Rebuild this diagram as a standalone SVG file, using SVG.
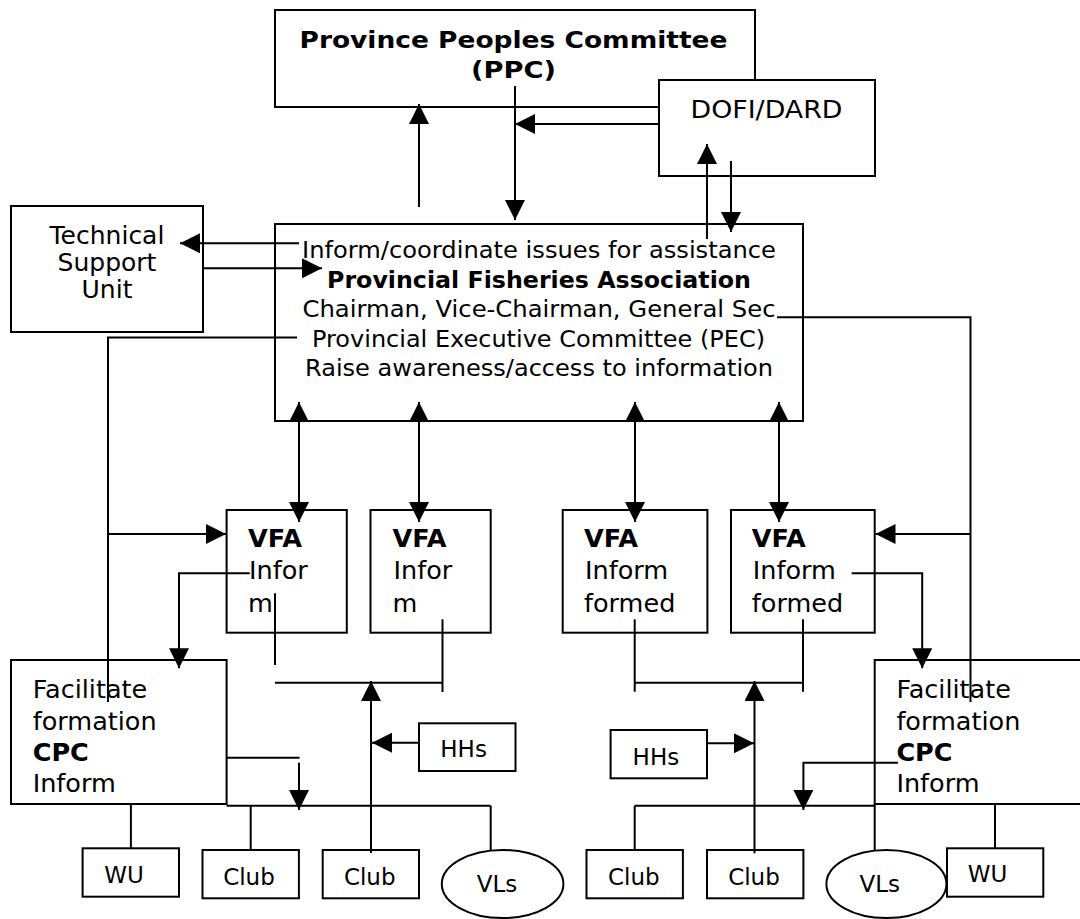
<svg xmlns="http://www.w3.org/2000/svg" width="1080" height="919" viewBox="0 0 1080 919">
<defs>
<style>
.box{fill:#fff;stroke:#000;stroke-width:2}
.ln{fill:none;stroke:#000;stroke-width:2}
.a{marker-end:url(#ah)}
.d{marker-start:url(#as);marker-end:url(#ah)}
text{font-family:"DejaVu Sans",Verdana,sans-serif;fill:#000}
.c{text-anchor:middle}
.b{font-weight:bold}
.f22{font-size:23px}
.f23{font-size:23px}
.f25{font-size:25px}
.f26{font-size:25.5px}
</style>
<marker id="ah" markerUnits="userSpaceOnUse" markerWidth="20" markerHeight="20" viewBox="0 0 20 20" refX="20" refY="10" orient="auto"><path d="M0,0 L20,10 L0,20 z" fill="#000"/></marker>
<marker id="as" markerUnits="userSpaceOnUse" markerWidth="20" markerHeight="20" viewBox="0 0 20 20" refX="0" refY="10" orient="auto"><path d="M20,0 L0,10 L20,20 z" fill="#000"/></marker>
</defs>
<rect width="1080" height="919" fill="#fff"/>

<g id="ppc">
<rect class="box" x="275" y="10" width="480" height="97"/>
<text class="c b f23" x="513.5" y="48" textLength="428" lengthAdjust="spacingAndGlyphs">Province Peoples Committee</text>
<text class="c b f23" x="513.5" y="78" textLength="85" lengthAdjust="spacingAndGlyphs">(PPC)</text>
</g>
<g id="dofi">
<rect class="box" x="659" y="80" width="216" height="96"/>
<text class="c f25" x="766.5" y="118" textLength="152" lengthAdjust="spacingAndGlyphs">DOFI/DARD</text>
</g>
<g id="tsu">
<rect class="box" x="11" y="206" width="192" height="126"/>
<text class="c f25" x="107" y="244">Technical</text>
<text class="c f25" x="107" y="271">Support</text>
<text class="c f25" x="107" y="298">Unit</text>
</g>
<g id="pfa">
<rect class="box" x="275" y="224" width="528" height="197"/>
<text class="c f22" x="539" y="258.3" textLength="474" lengthAdjust="spacingAndGlyphs">Inform/coordinate issues for assistance</text>
<text class="c f22 b" x="539" y="287.5" textLength="424" lengthAdjust="spacingAndGlyphs">Provincial Fisheries Association</text>
<text class="c f22" x="539" y="316.7" textLength="473" lengthAdjust="spacingAndGlyphs">Chairman, Vice-Chairman, General Sec</text>
<text class="c f22" x="538.5" y="346.5" textLength="453" lengthAdjust="spacingAndGlyphs">Provincial Executive Committee (PEC)</text>
<text class="c f22" x="539" y="376.3" textLength="468" lengthAdjust="spacingAndGlyphs">Raise awareness/access to information</text>
</g>
<g id="vfa1">
<rect class="box" x="226.6" y="510" width="120.2" height="122.7"/>
<text class="f26 b" x="248" y="546.7">VFA</text>
<text class="f26" x="249" y="579.3">Infor</text>
<text class="f26" x="248" y="611.7">m</text>
</g>
<g id="vfa2">
<rect class="box" x="370.5" y="510" width="120.2" height="122.7"/>
<text class="f26 b" x="392.6" y="546.7">VFA</text>
<text class="f26" x="393.6" y="579.3">Infor</text>
<text class="f26" x="392.6" y="611.7">m</text>
</g>
<g id="vfa3">
<rect class="box" x="562.7" y="510" width="144.7" height="122.7"/>
<text class="f26 b" x="584" y="546.7">VFA</text>
<text class="f26" x="585" y="579.3">Inform</text>
<text class="f26" x="584" y="611.7">formed</text>
</g>
<g id="vfa4">
<rect class="box" x="731" y="510" width="143.7" height="122.7"/>
<text class="f26 b" x="751.8" y="546.7">VFA</text>
<text class="f26" x="752.8" y="579.3">Inform</text>
<text class="f26" x="751.8" y="611.7">formed</text>
</g>
<g id="cpc-left">
<rect class="box" x="11" y="660" width="215.6" height="144"/>
<text class="f26" x="32.7" y="698.3">Facilitate</text>
<text class="f26" x="32.7" y="730">formation</text>
<text class="f26 b" x="32.7" y="761">CPC</text>
<text class="f26" x="32.7" y="791.7">Inform</text>
</g>
<g id="cpc-right">
<rect class="box" x="874.7" y="660" width="220" height="144"/>
<text class="f26" x="896.4" y="698.3">Facilitate</text>
<text class="f26" x="896.4" y="730">formation</text>
<text class="f26 b" x="896.4" y="761">CPC</text>
<text class="f26" x="896.4" y="791.7">Inform</text>
</g>
<g id="hhs-left">
<rect class="box" x="419" y="723.3" width="96.5" height="47.7"/>
<text class="c f23" x="463.6" y="757.3">HHs</text>
</g>
<g id="hhs-right">
<rect class="box" x="610.6" y="730" width="96.4" height="48.3"/>
<text class="c f23" x="655.9" y="765">HHs</text>
</g>
<g id="wu-left">
<rect class="box" x="82.6" y="848.3" width="96.4" height="48.4"/>
<text class="c f23" x="124" y="883.3">WU</text>
</g>
<g id="club-1">
<rect class="box" x="202.5" y="850" width="96.4" height="48.3"/>
<text class="c f23" x="249" y="885">Club</text>
</g>
<g id="club-2">
<rect class="box" x="322.7" y="850" width="96.3" height="48.3"/>
<text class="c f23" x="369.7" y="885">Club</text>
</g>
<g id="vls-left">
<ellipse class="box" cx="502.6" cy="884" rx="60.8" ry="34"/>
<text class="c f23" x="497" y="891.7">VLs</text>
</g>
<g id="club-3">
<rect class="box" x="586.5" y="850" width="96.4" height="48.3"/>
<text class="c f23" x="633.8" y="885">Club</text>
</g>
<g id="club-4">
<rect class="box" x="707" y="850" width="96.4" height="48.3"/>
<text class="c f23" x="754" y="885">Club</text>
</g>
<g id="vls-right">
<ellipse class="box" cx="886.4" cy="884" rx="60" ry="34"/>
<text class="c f23" x="879.7" y="891.7">VLs</text>
</g>
<g id="wu-right">
<rect class="box" x="947" y="848.3" width="96.3" height="48.4"/>
<text class="c f23" x="987.6" y="881.7">WU</text>
</g>

<g id="connectors">
<line class="ln a" x1="419" y1="207" x2="419" y2="104"/>
<line class="ln a" x1="515" y1="86" x2="515" y2="220"/>
<line class="ln a" x1="659" y1="124" x2="515" y2="124"/>
<line class="ln a" x1="707" y1="239" x2="707" y2="144"/>
<line class="ln a" x1="731" y1="161" x2="731" y2="232"/>
<line class="ln a" x1="299" y1="243.3" x2="180" y2="243.3"/>
<line class="ln a" x1="203" y1="268.3" x2="322" y2="268.3"/>
<polyline class="ln" points="297,337.5 108,337.5 108,702"/>
<line class="ln a" x1="108" y1="534" x2="226" y2="534"/>
<polyline class="ln" points="777,317.3 970.5,317.3 970.5,702"/>
<line class="ln a" x1="970.5" y1="534" x2="875.5" y2="534"/>
<line class="ln d" x1="299" y1="402" x2="299" y2="522"/>
<line class="ln d" x1="419" y1="402" x2="419" y2="522"/>
<line class="ln d" x1="635" y1="402" x2="635" y2="522"/>
<line class="ln d" x1="779" y1="402" x2="779" y2="522"/>
<polyline class="ln a" points="249.7,573.3 179,573.3 179,668.3"/>
<polyline class="ln a" points="851.6,573.3 922.2,573.3 922.2,668.3"/>
<line class="ln" x1="275" y1="593.3" x2="275" y2="665"/>
<line class="ln" x1="275" y1="682.7" x2="442.5" y2="682.7"/>
<line class="ln" x1="442.5" y1="619.3" x2="442.5" y2="692"/>
<line class="ln" x1="634.7" y1="619.3" x2="634.7" y2="691.7"/>
<line class="ln" x1="634.7" y1="682.7" x2="803" y2="682.7"/>
<line class="ln" x1="803" y1="619.3" x2="803" y2="691.7"/>
<line class="ln a" x1="371" y1="853" x2="371" y2="681"/>
<line class="ln a" x1="754.5" y1="853.3" x2="754.5" y2="681"/>
<line class="ln a" x1="419" y1="742.7" x2="372" y2="742.7"/>
<line class="ln a" x1="707" y1="743.3" x2="754" y2="743.3"/>
<line class="ln" x1="226.6" y1="757.7" x2="299.6" y2="757.7"/>
<line class="ln a" x1="299" y1="762.7" x2="299" y2="810"/>
<polyline class="ln a" points="898,762.7 803.4,762.7 803.4,810"/>
<line class="ln" x1="226.6" y1="805.7" x2="490.7" y2="805.7"/>
<line class="ln" x1="130.9" y1="804" x2="130.9" y2="848.3"/>
<line class="ln" x1="250.7" y1="805.7" x2="250.7" y2="850"/>
<line class="ln" x1="490.7" y1="805.7" x2="490.7" y2="851"/>
<line class="ln" x1="634.7" y1="805.7" x2="874.7" y2="805.7"/>
<line class="ln" x1="634.7" y1="805.7" x2="634.7" y2="850"/>
<line class="ln" x1="874.7" y1="804" x2="874.7" y2="850.5"/>
<line class="ln" x1="995" y1="804" x2="995" y2="848.3"/>
</g>
</svg>
